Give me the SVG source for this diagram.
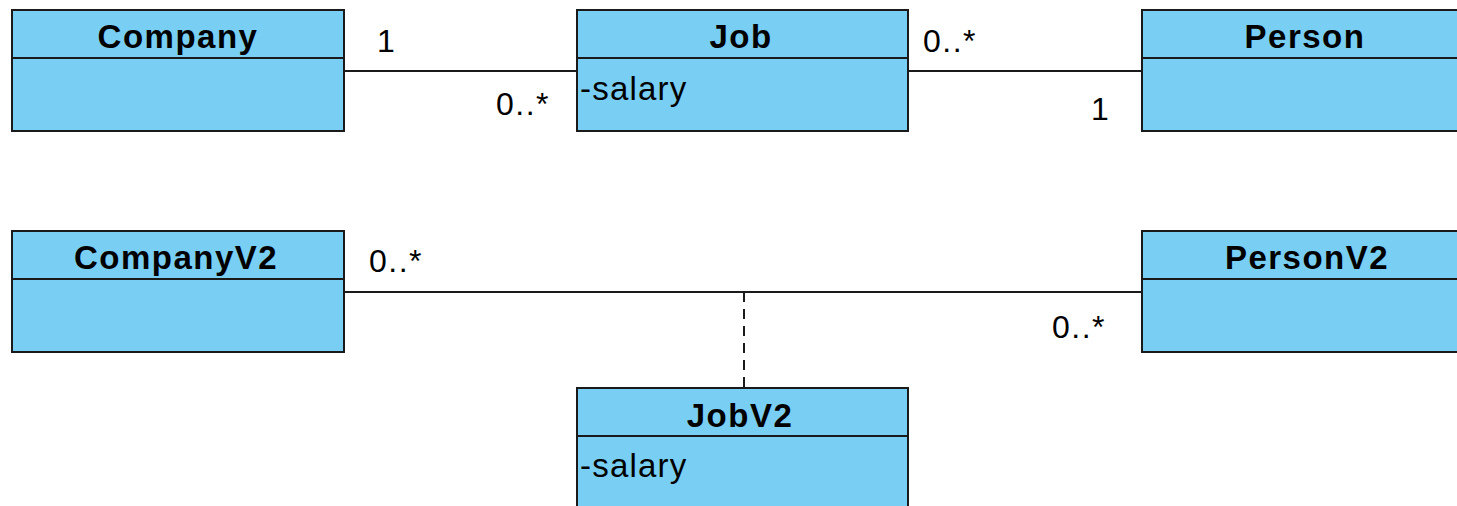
<svg xmlns="http://www.w3.org/2000/svg" width="1457" height="506" viewBox="0 0 1457 506">
<style>
.box{fill:#79cef3;stroke:#1a1a1a;stroke-width:2}
.div{stroke:#1a1a1a;stroke-width:2}
.title{font-family:"Liberation Sans",Arial,sans-serif;font-weight:bold;font-size:33px;letter-spacing:1.5px;fill:#000;text-anchor:middle}
.attr{font-family:"Liberation Sans",Arial,sans-serif;font-size:33px;letter-spacing:1.2px;fill:#000}
.mult{font-family:"Liberation Sans",Arial,sans-serif;font-size:32px;letter-spacing:1.5px;fill:#000}
.conn{stroke:#1a1a1a;stroke-width:2;fill:none}
</style>
<rect width="1457" height="506" fill="#fff"/>
<g id="connectors">
<line class="conn" x1="344" y1="71" x2="577" y2="71"/>
<line class="conn" x1="908" y1="71" x2="1142" y2="71"/>
<line class="conn" x1="344" y1="292" x2="1142" y2="292"/>
<line class="conn" x1="744" y1="292" x2="744" y2="388" stroke-dasharray="10,7"/>
<text class="mult" x="377" y="52">1</text>
<text class="mult" x="496" y="115">0..*</text>
<text class="mult" x="923" y="52">0..*</text>
<text class="mult" x="1091" y="120">1</text>
<text class="mult" x="369" y="272">0..*</text>
<text class="mult" x="1052" y="338">0..*</text>
</g>
<g id="Company">
<rect class="box" x="12" y="10" width="332" height="121"/>
<line class="div" x1="12" y1="58" x2="344" y2="58"/>
<text class="title" x="178" y="48">Company</text>
</g>
<g id="Job">
<rect class="box" x="577" y="10" width="331" height="121"/>
<line class="div" x1="577" y1="58" x2="908" y2="58"/>
<text class="title" x="741" y="48">Job</text>
<text class="attr" x="580" y="100">-salary</text>
</g>
<g id="Person">
<rect class="box" x="1142" y="10" width="330" height="121"/>
<line class="div" x1="1142" y1="58" x2="1472" y2="58"/>
<text class="title" x="1305" y="48">Person</text>
</g>
<g id="CompanyV2">
<rect class="box" x="12" y="231" width="332" height="121"/>
<line class="div" x1="12" y1="279" x2="344" y2="279"/>
<text class="title" x="176" y="269">CompanyV2</text>
</g>
<g id="PersonV2">
<rect class="box" x="1142" y="231" width="330" height="121"/>
<line class="div" x1="1142" y1="279" x2="1472" y2="279"/>
<text class="title" x="1307" y="269">PersonV2</text>
</g>
<g id="JobV2">
<rect class="box" x="577" y="388" width="331" height="130"/>
<line class="div" x1="577" y1="436" x2="908" y2="436"/>
<text class="title" x="740" y="427">JobV2</text>
<text class="attr" x="580" y="477">-salary</text>
</g>
</svg>
